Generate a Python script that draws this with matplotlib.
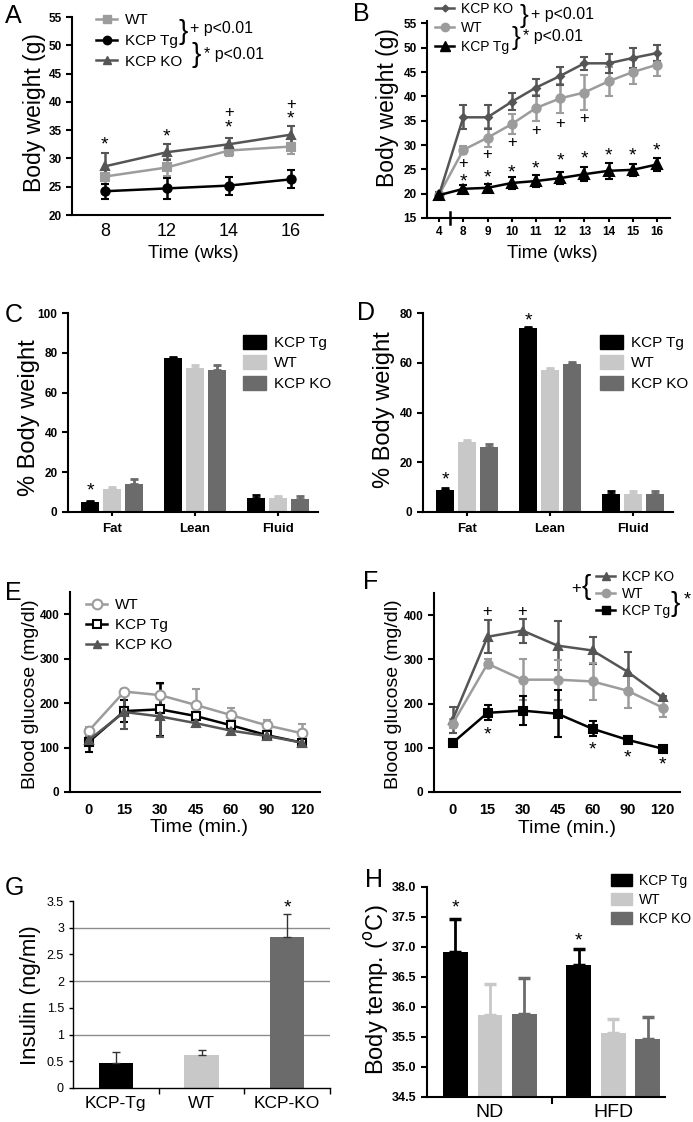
import numpy as np
import matplotlib.pyplot as plt
from matplotlib.lines import Line2D
from matplotlib.patches import Patch

plt.rcParams["font.family"] = ["Liberation Sans", "DejaVu Sans"]
plt.rcParams["axes.linewidth"] = 1.5

TG = "black"
WT_LINE = "#9c9c9c"
KO_LINE = "#555555"
WT_BAR = "#c8c8c8"
KO_BAR = "#6b6b6b"

# A: body weight, normal diet
a_weeks = ["8", "12", "14", "16"]
a_wt = [26.8, 28.4, 31.4, 32.1]
a_wt_err = [1.3, 1.5, 1.0, 1.4]
a_tg = [24.2, 24.7, 25.2, 26.3]
a_tg_err = [1.3, 1.8, 1.6, 1.6]
a_ko = [28.6, 31.1, 32.5, 34.2]
a_ko_err = [2.3, 1.4, 1.1, 1.5]
a_star_y = [33.2, 34.6, 36.2, 37.8]
a_plus_idx = [2, 3]
a_plus_y = [38.2, 39.6]

# B: body weight, HFD
b_weeks = ["4", "8", "9", "10", "11", "12", "13", "14", "15", "16"]
b_ko = [19.8, 35.7, 35.7, 38.9, 41.8, 44.2, 46.8, 46.8, 47.9, 48.9]
b_ko_err = [0.5, 2.5, 2.5, 1.7, 1.7, 1.8, 1.4, 1.9, 2.0, 1.6]
b_wt = [19.8, 29.0, 31.5, 34.3, 37.6, 39.6, 40.8, 43.1, 45.0, 46.5]
b_wt_err = [0.5, 0.8, 2.0, 2.0, 2.7, 3.0, 3.5, 3.0, 2.4, 2.3]
b_tg = [19.7, 21.0, 21.2, 22.2, 22.6, 23.2, 24.0, 24.7, 24.9, 26.0]
b_tg_err = [0.4, 0.8, 0.8, 1.2, 1.2, 1.2, 1.4, 1.7, 1.3, 1.4]
b_plus_y = [26.3, 28.0, 30.5, 33.0, 34.5, 35.4]
b_star_y = [23.4, 24.1, 25.1, 26.1, 27.6, 28.0, 28.6, 28.6, 29.7]

# C, D: body composition
comp_groups = ["Fat", "Lean", "Fluid"]
c_tg = [5.0, 77.6, 6.8]
c_tg_err = [0.6, 0.5, 1.6]
c_wt = [11.8, 72.5, 6.8]
c_wt_err = [0.9, 1.5, 1.3]
c_ko = [14.2, 71.3, 6.4]
c_ko_err = [2.6, 2.7, 1.6]
d_tg = [8.8, 73.8, 7.4]
d_tg_err = [0.7, 0.7, 1.1]
d_wt = [28.3, 57.0, 7.4]
d_wt_err = [0.6, 0.9, 1.1]
d_ko = [26.2, 59.3, 7.2]
d_ko_err = [1.1, 1.2, 1.2]

# E, F: glucose tolerance
gtt_times = ["0", "15", "30", "45", "60", "90", "120"]
e_wt = [138, 226, 218, 196, 173, 150, 132]
e_wt_err = [8, 5, 25, 35, 15, 12, 22]
e_tg = [113, 182, 186, 171, 150, 128, 111]
e_tg_err = [22, 25, 60, 10, 10, 8, 6]
e_ko = [117, 180, 170, 155, 138, 126, 111]
e_ko_err = [8, 38, 47, 8, 8, 8, 6]
f_ko = [163, 351, 365, 331, 320, 272, 214]
f_ko_err = [30, 37, 27, 55, 30, 45, 4]
f_wt = [154, 290, 254, 254, 250, 229, 191]
f_wt_err = [10, 10, 47, 45, 42, 40, 22]
f_tg = [111, 179, 184, 177, 143, 118, 98]
f_tg_err = [8, 17, 32, 53, 17, 8, 4]
f_plus_idx = [1, 2]
f_plus_y = [409, 409]
f_star_idx = [1, 4, 5, 6]
f_star_y = [139, 105, 88, 71]

# G: insulin
g_groups = ["KCP-Tg", "WT", "KCP-KO"]
g_vals = [0.47, 0.61, 2.82]
g_err = [0.20, 0.11, 0.43]
g_grid = [1, 2, 3]
g_star_y = 3.45

# H: body temperature
h_groups = ["ND", "HFD"]
h_tg = [36.92, 36.70]
h_tg_err = [0.55, 0.27]
h_wt = [35.86, 35.57]
h_wt_err = [0.53, 0.23]
h_ko = [35.88, 35.46]
h_ko_err = [0.60, 0.37]
h_star_y = [37.72, 37.17]

W, H = 693, 1122
fig = plt.figure(figsize=(W / 100, H / 100), dpi=100)


def px_axes(left, top, right, bottom):
    ax = fig.add_axes([left / W, 1 - bottom / H, (right - left) / W, (bottom - top) / H])
    ax.spines["top"].set_visible(False)
    ax.spines["right"].set_visible(False)
    ax.tick_params(width=1.5, length=4)
    return ax


def px_text(x, y, s, **kw):
    fig.text(x / W, 1 - y / H, s, **kw)


def px_ylabel(ax, text, x_right, y, size):
    # x_right: right edge of the rotated label, in pixels
    ax.set_ylabel(text, fontsize=size)
    ax.yaxis.set_label_coords(x_right / W, 1 - y / H, transform=fig.transFigure)


def px_xlabel(ax, text, x, y_top, size):
    ax.set_xlabel(text, fontsize=size)
    ax.xaxis.set_label_coords(x / W, 1 - y_top / H, transform=fig.transFigure)


def bold_yticks(ax, size):
    ax.tick_params(axis="y", labelsize=size)
    for lbl in ax.get_yticklabels():
        lbl.set_fontweight("bold")


def line_series(ax, x, vals, err, color, marker, ms=6, mfc=None):
    ax.errorbar(x, vals, yerr=err, color=color, marker=marker, ms=ms,
                mfc=mfc if mfc else color, mec=color, mew=1.5, lw=1.8,
                elinewidth=1.8, capsize=3, capthick=1.8)


def mark(ax, x, y, s):
    # the asterisk glyph sits high in its box, so pull it down a little
    if s == "*":
        ax.annotate(s, (x, y), xytext=(0, -3.3), textcoords="offset points",
                    ha="center", va="center", fontsize=14)
    else:
        ax.annotate(s, (x, y), ha="center", va="center", fontsize=12)


def line_legend(ax, handles, labels, x, y, spacing, size=11):
    ax.legend(handles, labels, loc="upper left", bbox_to_anchor=(x / W, 1 - y / H),
              bbox_transform=fig.transFigure, frameon=False, fontsize=size,
              handlelength=1.4, handletextpad=0.5, labelspacing=spacing, borderpad=0,
              borderaxespad=0)


def bar_legend(ax, x, y, size=11):
    handles = [Patch(color=TG), Patch(color=WT_BAR), Patch(color=KO_BAR)]
    ax.legend(handles, ["KCP Tg", "WT", "KCP KO"], loc="upper left",
              bbox_to_anchor=(x / W, 1 - y / H), bbox_transform=fig.transFigure,
              frameon=False, fontsize=size, handlelength=1.5, handleheight=1.0,
              handletextpad=0.5, labelspacing=0.35, borderpad=0, borderaxespad=0)


# ---------------- A ----------------
ax = px_axes(72, 17, 323, 215)
xa = np.arange(len(a_weeks))
line_series(ax, xa, a_wt, a_wt_err, WT_LINE, "s")
line_series(ax, xa, a_ko, a_ko_err, KO_LINE, "^")
line_series(ax, xa, a_tg, a_tg_err, TG, "o")
for i, y in enumerate(a_star_y):
    mark(ax, xa[i], y, "*")
for i, y in zip(a_plus_idx, a_plus_y):
    mark(ax, xa[i], y, "+")
ax.set_xlim(-0.53, 3.52)
ax.set_ylim(20, 55)
ax.set_yticks(range(20, 56, 5))
ax.set_xticks(xa, a_weeks)
ax.tick_params(axis="x", length=0, labelsize=13, pad=6)
bold_yticks(ax, 8.5)
px_ylabel(ax, "Body weight (g)", 46, 113, 16.5)
px_xlabel(ax, "Time (wks)", 193, 245, 13.5)
line_legend(ax,
            [Line2D([], [], color=WT_LINE, marker="s", ms=6, lw=1.8),
             Line2D([], [], color=TG, marker="o", ms=6, lw=1.8),
             Line2D([], [], color=KO_LINE, marker="^", ms=6, lw=1.8)],
            ["WT", "KCP Tg", "KCP KO"], 96, 13, 0.45)
px_text(183, 32, "}", fontsize=20, ha="center", va="center")
px_text(190, 29, "+ p<0.01", fontsize=11.5, va="center")
px_text(196, 55, "}", fontsize=20, ha="center", va="center")
px_text(204, 54, "* p<0.01", fontsize=11.5, va="center")
px_text(5, 16, "A", fontsize=18, va="center")

# ---------------- B ----------------
ax = px_axes(427, 21, 670, 218)
xb = np.arange(len(b_weeks))
line_series(ax, xb, b_wt, b_wt_err, WT_LINE, "o")
line_series(ax, xb, b_ko, b_ko_err, KO_LINE, "D", ms=3.5)
line_series(ax, xb, b_tg, b_tg_err, TG, "^", ms=7)
for i, y in enumerate(b_plus_y):
    mark(ax, xb[i + 1], y, "+")
for i, y in enumerate(b_star_y):
    mark(ax, xb[i + 1], y, "*")
ax.plot([0.45, 0.45], [-0.03, 0.03], color="black", lw=1.8,
        transform=ax.get_xaxis_transform(), clip_on=False)
ax.set_xlim(-0.5, 9.54)
ax.set_ylim(15, 55.5)
ax.set_yticks(range(15, 56, 5))
ax.set_xticks(xb, b_weeks)
ax.tick_params(axis="x", length=3, labelsize=8.5, pad=3)
for lbl in ax.get_xticklabels():
    lbl.set_fontweight("bold")
bold_yticks(ax, 8.5)
px_ylabel(ax, "Body weight (g)", 399, 108, 16.5)
px_xlabel(ax, "Time (wks)", 552, 245, 13.5)
line_legend(ax,
            [Line2D([], [], color=KO_LINE, marker="D", ms=3.5, lw=1.8),
             Line2D([], [], color=WT_LINE, marker="o", ms=6, lw=1.8),
             Line2D([], [], color=TG, marker="^", ms=7, lw=1.8)],
            ["KCP KO", "WT", "KCP Tg"], 435, 2, 0.35, size=10)
px_text(524, 16, "}", fontsize=19, ha="center", va="center")
px_text(531, 14, "+ p<0.01", fontsize=11.5, va="center")
px_text(516, 38, "}", fontsize=19, ha="center", va="center")
px_text(523, 36, "* p<0.01", fontsize=11.5, va="center")
px_text(353, 14, "B", fontsize=18, va="center")


# ---------------- C, D ----------------
def comp_panel(left, right, top, ymax, tg, tg_err, wt, wt_err, ko, ko_err):
    ax = px_axes(left, top, right, 512)
    xc = np.arange(len(comp_groups))
    for off, vals, err, col in [(-0.265, tg, tg_err, TG), (0, wt, wt_err, WT_BAR),
                                (0.265, ko, ko_err, KO_BAR)]:
        ax.bar(xc + off, vals, width=0.22, color=col,
               yerr=[np.zeros(len(vals)), err], ecolor=col,
               error_kw=dict(elinewidth=2, capsize=3, capthick=2))
    ax.set_xlim(-0.53, 2.48)
    ax.set_ylim(0, ymax)
    ax.set_xticks(xc, comp_groups)
    ax.tick_params(axis="x", length=3, labelsize=9.5, pad=5)
    for lbl in ax.get_xticklabels():
        lbl.set_fontweight("bold")
    bold_yticks(ax, 8.5)
    return ax, xc


ax, xc = comp_panel(68, 318, 313, 100, c_tg, c_tg_err, c_wt, c_wt_err, c_ko, c_ko_err)
ax.set_yticks(range(0, 101, 20))
mark(ax, xc[0] - 0.265, 12.7, "*")
px_ylabel(ax, "% Body weight", 40, 418, 17)
bar_legend(ax, 243, 335)
px_text(5, 315, "C", fontsize=18, va="center")

ax, xc = comp_panel(423, 673, 313, 80, d_tg, d_tg_err, d_wt, d_wt_err, d_ko, d_ko_err)
ax.set_yticks(range(0, 81, 20))
mark(ax, xc[0] - 0.265, 14.9, "*")
mark(ax, xc[1] - 0.265, 78.5, "*")
px_ylabel(ax, "% Body weight", 395, 410, 17)
bar_legend(ax, 600, 335)
px_text(357, 313, "D", fontsize=18, va="center")


# ---------------- E, F ----------------
def gtt_axes(left, right, top):
    ax = px_axes(left, top, right, 792)
    ax.set_xlim(-0.53, 6.5)
    ax.set_ylim(0, 450)
    ax.set_yticks(range(0, 401, 100))
    ax.set_xticks(np.arange(len(gtt_times)), gtt_times)
    ax.tick_params(axis="x", length=0, labelsize=10.5, pad=8)
    for lbl in ax.get_xticklabels():
        lbl.set_fontweight("bold")
    bold_yticks(ax, 8.5)
    return ax


ax = gtt_axes(70, 320, 592)
xe = np.arange(len(gtt_times))
line_series(ax, xe, e_wt, e_wt_err, WT_LINE, "o", ms=7, mfc="white")
line_series(ax, xe, e_tg, e_tg_err, TG, "s", ms=6, mfc="white")
line_series(ax, xe, e_ko, e_ko_err, KO_LINE, "^", ms=6)
px_ylabel(ax, "Blood glucose (mg/dl)", 39, 694, 14)
px_xlabel(ax, "Time (min.)", 199, 819, 14)
line_legend(ax,
            [Line2D([], [], color=WT_LINE, marker="o", ms=7, mfc="white", mew=1.5, lw=1.8),
             Line2D([], [], color=TG, marker="s", ms=6, mfc="white", mew=1.5, lw=1.8),
             Line2D([], [], color=KO_LINE, marker="^", ms=6, lw=1.8)],
            ["WT", "KCP Tg", "KCP KO"], 86, 598, 0.4)
px_text(5, 593, "E", fontsize=18, va="center")

ax = gtt_axes(434, 680, 593)
line_series(ax, xe, f_ko, f_ko_err, KO_LINE, "^", ms=6)
line_series(ax, xe, f_wt, f_wt_err, WT_LINE, "o", ms=6)
line_series(ax, xe, f_tg, f_tg_err, TG, "s", ms=6)
for i, y in zip(f_plus_idx, f_plus_y):
    mark(ax, xe[i], y, "+")
for i, y in zip(f_star_idx, f_star_y):
    mark(ax, xe[i], y, "*")
px_ylabel(ax, "Blood glucose (mg/dl)", 402, 694, 14)
px_xlabel(ax, "Time (min.)", 567, 820, 14)
line_legend(ax,
            [Line2D([], [], color=KO_LINE, marker="^", ms=6, lw=1.8),
             Line2D([], [], color=WT_LINE, marker="o", ms=6, lw=1.8),
             Line2D([], [], color=TG, marker="s", ms=6, lw=1.8)],
            ["KCP KO", "WT", "KCP Tg"], 596, 570, 0.2, size=10)
px_text(576, 589, "+", fontsize=12, ha="center", va="center")
px_text(586, 587, "{", fontsize=20, ha="center", va="center")
px_text(675, 604, "}", fontsize=20, ha="center", va="center")
px_text(687, 600, "*", fontsize=13, ha="center", va="center")
px_text(363, 582, "F", fontsize=18, va="center")

# ---------------- G ----------------
ax = px_axes(73, 901, 330, 1088)
ax.spines["left"].set_linewidth(1.0)
ax.spines["bottom"].set_linewidth(1.0)
xg = np.arange(len(g_groups))
for level in g_grid:
    ax.axhline(level, color="#8c8c8c", lw=1.0, zorder=0)
ax.bar(xg, g_vals, width=0.4, color=[TG, WT_BAR, KO_BAR],
       yerr=[np.zeros(len(g_vals)), g_err], ecolor="#333333",
       error_kw=dict(elinewidth=1.0, capsize=3, capthick=1.0))
ax.annotate("*", (xg[2], g_star_y), xytext=(0, -3.3), textcoords="offset points",
            ha="center", va="center", fontsize=14, annotation_clip=False)
ax.set_xlim(-0.5, 2.5)
ax.set_ylim(0, 3.5)
ax.set_yticks(np.arange(0, 3.51, 0.5), ["0", "0.5", "1", "1.5", "2", "2.5", "3", "3.5"])
ax.set_xticks(xg, g_groups)
ax.set_xticks([0.5, 1.5, 2.5], minor=True)
ax.tick_params(axis="x", which="major", length=0, labelsize=12.5, pad=6)
ax.tick_params(axis="x", which="minor", length=4, width=1.0)
ax.tick_params(axis="y", length=3, width=1.0, labelsize=9)
px_ylabel(ax, "Insulin (ng/ml)", 41, 995, 16)
px_text(5, 888, "G", fontsize=18, va="center")

# ---------------- H ----------------
ax = px_axes(427, 887, 665, 1097)
xh = np.arange(len(h_groups))
for off, vals, err, col in [(-0.28, h_tg, h_tg_err, TG), (0, h_wt, h_wt_err, WT_BAR),
                            (0.28, h_ko, h_ko_err, KO_BAR)]:
    ax.bar(xh + off, vals, width=0.2, bottom=0, color=col,
           yerr=[np.zeros(len(vals)), err], ecolor=col,
           error_kw=dict(elinewidth=2, capsize=4, capthick=2.5))
for i, y in enumerate(h_star_y):
    mark(ax, xh[i] - 0.28, y, "*")
ax.set_xlim(-0.51, 1.42)
ax.set_ylim(34.5, 38.0)
ax.set_yticks(np.arange(34.5, 38.01, 0.5))
ax.yaxis.set_major_formatter("{x:.1f}")
ax.set_xticks(xh, h_groups)
ax.set_xticks([0.5], minor=True)
ax.tick_params(axis="x", which="major", length=0, labelsize=14, pad=5)
ax.tick_params(axis="x", which="minor", length=5, width=1.5)
bold_yticks(ax, 9)
px_ylabel(ax, "Body temp. ($^{\\rm o}$C)", 391, 990, 17)
bar_legend(ax, 611, 874, size=10)
px_text(365, 880, "H", fontsize=18, va="center")

fig.savefig("out.png", dpi=100)
